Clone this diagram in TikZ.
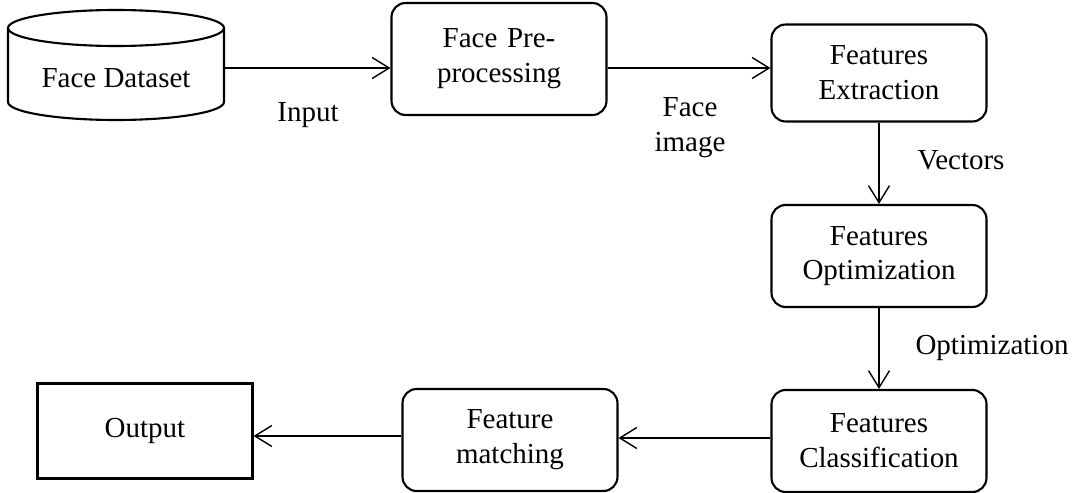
\documentclass[tikz,border=0pt]{standalone}
\usepackage{fontspec}
\setmainfont{Liberation Serif}
\usetikzlibrary{arrows.meta, positioning, calc}

\begin{document}
\begin{tikzpicture}[
        x=0.02cm, y=-0.02cm,
        font=\fontsize{16.5}{19.8}\selectfont,
        stage/.style={rectangle, draw=black, line width=1.2pt, rounded corners=8pt, text width=4cm, minimum width=4.3cm, minimum height=2.04cm, align=center},
        sink/.style={rectangle, draw=black, line width=1.2pt, minimum width=4.3cm, minimum height=1.9cm, align=center},
        lbl/.style={align=center},
        arrow/.style={-{Straight Barb[length=0.34cm, width=0.42cm]}, line width=0.8pt, draw=black},
    ]
        \useasboundingbox (0,0) rectangle (1075,493);

        % Data source (cylinder)
        \node (dataset) at (116,78) {Face Dataset};
        \draw[line width=1.2pt] (8,28) -- (8,102) arc (180:0:108 and 18) -- (224,28);
        \draw[line width=1.2pt] (116,28) ellipse (108 and 18);

        % Stages
        \node[stage, minimum height=2.24cm] (prep) at (499,59) {Face Pre-\\processing};
        \node[stage, minimum height=1.94cm] (extract) at (879,73) {Features\\Extraction};
        \node[stage] (optim) at (879,256) {Features\\Optimization};
        \node[stage] (classif) at (879,441) {Features\\Classification};
        \node[stage] (match) at (510,440) {Feature\\matching};
        \node[sink] (output) at (145,431) {Output};

        % Labels
        \node[lbl] (lblinput) at (308,115) {Input};
        \node[lbl] (lblface) at (690,128) {Face\\image};
        \node[lbl] (lblvec) at (961,160) {Vectors};
        \node[lbl] (lblopt) at (992,348) {Optimization};

        % Arrows
        \draw[arrow] ([yshift=0.2cm]dataset.east -| 224,0) -- ([yshift=0.2cm]dataset.east -| prep.west);
        \draw[arrow] ([yshift=-0.18cm]prep.east) -- ([yshift=-0.18cm]prep.east -| extract.west);
        \draw[arrow] (extract) -- (optim);
        \draw[arrow] (optim) -- (classif);
        \draw[arrow] (classif.west |- 0,438) -- (match.east |- 0,438);
        \draw[arrow] (match.west |- 0,436) -- (output.east |- 0,436);
    \end{tikzpicture}
\end{document}
